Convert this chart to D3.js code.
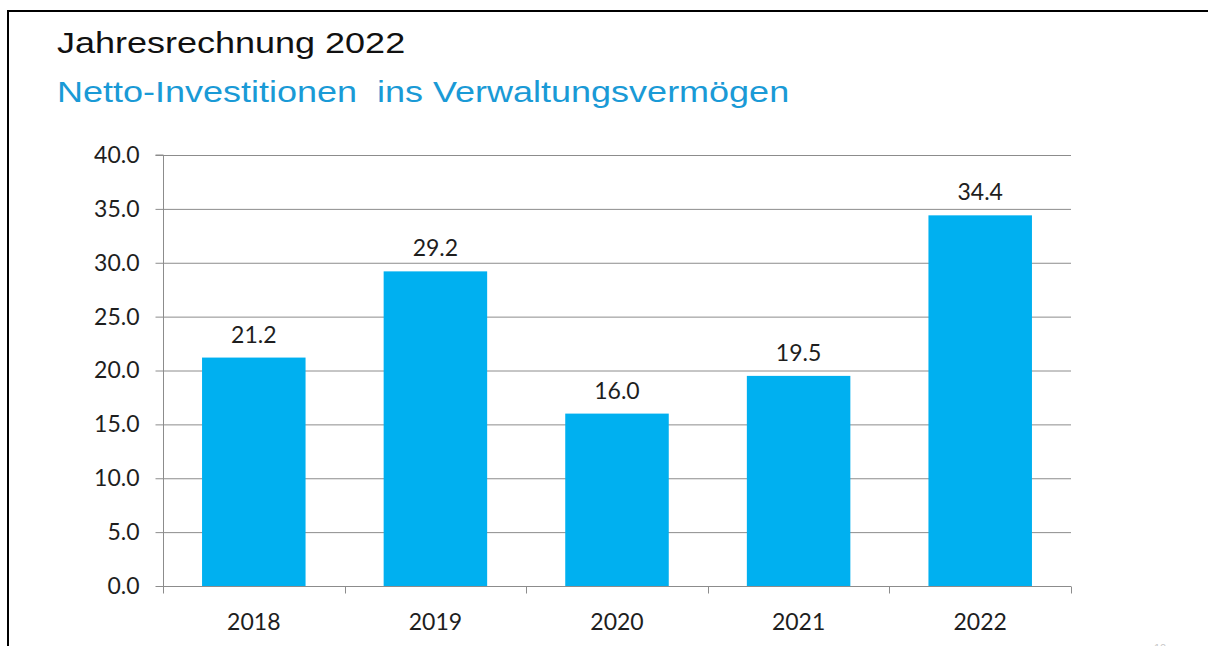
<!DOCTYPE html>
<html><head><meta charset="utf-8">
<script src="https://cdn.jsdelivr.net/npm/d3@7"></script>
<style>body{margin:0;background:#fff;}svg{display:block;}</style>
</head><body>
<svg id="c" width="1208" height="646"></svg>
<script>
const categories = ["2018","2019","2020","2021","2022"];
const values = [21.2, 29.2, 16.0, 19.5, 34.4];
const yTicks = [0,5,10,15,20,25,30,35,40];
const title = "Jahresrechnung 2022";
const subtitle = "Netto-Investitionen  ins Verwaltungsvermögen";

(function(){
const svg = d3.select("#c");
// frame
svg.append("rect").attr("x",8).attr("y",11).attr("width",1230).attr("height",700)
  .attr("fill","none").attr("stroke","#000").attr("stroke-width",2);

svg.append("text").attr("transform","translate(57,53) scale(1.2,1)").attr("font-family","Liberation Sans, Arial, sans-serif")
  .attr("font-size",30).attr("fill","#111").text(title);
svg.append("text").attr("transform","translate(57,102) scale(1.2,1)").attr("font-family","Liberation Sans, Arial, sans-serif")
  .attr("font-size",30).attr("fill","#1a9ad6").style("white-space","pre").text(subtitle);

const pLeft=163, pRight=1071, pTop=155, pBottom=586;
const x = d3.scaleBand().domain(categories).range([pLeft,pRight]).paddingInner(0.43).paddingOuter(0.215);
const xb = d3.scaleBand().domain(categories).range([pLeft,pRight]);
const y = d3.scaleLinear().domain([0,40]).range([pBottom,pTop]);
const font = "Lato, 'Open Sans', sans-serif";
const fs = 23;
const grid = "#8c8c8c";
const txt = "#1e1e1e";

// gridlines
svg.append("g").selectAll("line").data(yTicks.filter(d=>d>0)).join("line")
  .attr("x1",pLeft).attr("x2",pRight).attr("y1",d=>y(d)+0.5).attr("y2",d=>y(d)+0.5)
  .attr("stroke",grid).attr("stroke-width",1);

// bars
svg.append("g").selectAll("rect").data(values).join("rect")
  .attr("x",(d,i)=>x(categories[i])).attr("width",x.bandwidth())
  .attr("y",d=>y(d)).attr("height",d=>y(0)-y(d)).attr("fill","#00b0f0");

// y axis
const yAxis = d3.axisLeft(y).tickValues(yTicks).tickFormat(d3.format(".1f")).tickSize(8).tickPadding(16);
const gy = svg.append("g").attr("transform",`translate(${pLeft+0.5},0)`).call(yAxis);
gy.select(".domain").attr("stroke",grid).attr("d",`M-8,${pTop}H0V${pBottom}`);
gy.selectAll(".tick line").attr("stroke",grid);
gy.selectAll(".tick text").attr("font-family",font).attr("font-size",fs).attr("fill",txt);
gy.selectAll(".tick").attr("transform",d=>`translate(0,${y(d)+0.5})`);

// x axis
const gx = svg.append("g").attr("transform",`translate(0,${pBottom+0.5})`);
gx.append("line").attr("x1",pLeft).attr("x2",pRight).attr("stroke",grid);
const bounds = categories.map(c=>xb(c)).concat([pRight]);
gx.selectAll("line.t").data(bounds).join("line").attr("class","t")
  .attr("x1",d=>Math.round(d)+0.5).attr("x2",d=>Math.round(d)+0.5).attr("y1",0).attr("y2",7).attr("stroke",grid);
gx.selectAll("text").data(categories).join("text")
  .attr("x",d=>xb(d)+xb.bandwidth()/2).attr("y",43).attr("text-anchor","middle")
  .attr("font-family",font).attr("font-size",fs).attr("fill",txt).text(d=>d);

// value labels
svg.append("g").selectAll("text").data(values).join("text")
  .attr("x",(d,i)=>x(categories[i])+x.bandwidth()/2).attr("y",d=>y(d)-15)
  .attr("text-anchor","middle").attr("font-family",font).attr("font-size",fs).attr("fill",txt)
  .text(d=>d3.format(".1f")(d));

// page number
svg.append("text").attr("x",1160).attr("y",652).attr("text-anchor","middle")
  .attr("font-family","Liberation Sans, Arial, sans-serif").attr("font-size",11).attr("fill","#c8c8c8").text("10");
})();
</script>
</body></html>
